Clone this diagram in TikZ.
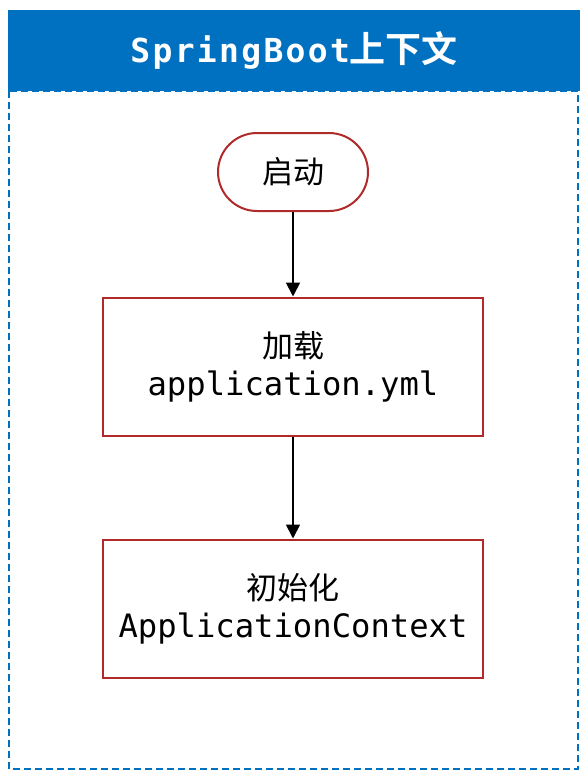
\documentclass[tikz,border=0pt]{standalone}
\usepackage{fontspec}
\setmonofont{DejaVu Sans Mono}
\newfontfamily\cjk{Noto Sans CJK SC}
\newfontfamily\cjkb{Noto Sans CJK SC Bold}
\newfontfamily\monob[LetterSpace=7]{DejaVu Sans Mono Bold}
\usetikzlibrary{arrows.meta,shapes.misc}
\definecolor{hdrblue}{HTML}{0070C0}
\definecolor{boxred}{HTML}{B02A2A}
\tikzset{
  px/.style={x=1pt,y=-1pt},
  stepbox/.style={draw=boxred,line width=2pt,fill=white,minimum width=380pt,minimum height=138pt,align=center,inner sep=0pt},
  startnode/.style={draw=boxred,line width=2pt,fill=white,rounded rectangle,minimum width=150pt,minimum height=78pt,inner sep=0pt},
  flow/.style={-{Triangle[length=14pt,width=14pt]},line width=1.8pt,black},
  cjktext/.style={font=\fontsize{31}{36}\cjk},
}
\begin{document}
\begin{tikzpicture}[px]
\useasboundingbox (0,0) rectangle (588,780);
\fill[white] (0,0) rectangle (588,780);
\draw[hdrblue,line width=1.5pt,dash pattern=on 7pt off 4pt] (9,91) rectangle (578,769);
\node[fill=hdrblue,minimum width=572pt,minimum height=81pt,inner sep=0pt,anchor=north west] (hdr) at (8,10) {};
\node[text=white,inner sep=0pt] (title) at (hdr.center)
  {\fontsize{33}{36}\monob SpringBoot\cjkb\fontsize{36}{36}\selectfont 上下文};
\node[startnode,cjktext] (start) at (293,172) {启动};
\node[stepbox] (load) at (293,366.5)
  {{\fontsize{31}{36}\cjk 加载}\\[10pt]{\fontsize{32.2}{36}\ttfamily application.yml}};
\node[stepbox] (init) at (293,608.5)
  {{\fontsize{31}{36}\cjk 初始化}\\[10pt]{\fontsize{32.2}{36}\ttfamily ApplicationContext}};
\draw[flow] (start) -- (load);
\draw[flow] (load) -- (init);
\end{tikzpicture}
\end{document}
